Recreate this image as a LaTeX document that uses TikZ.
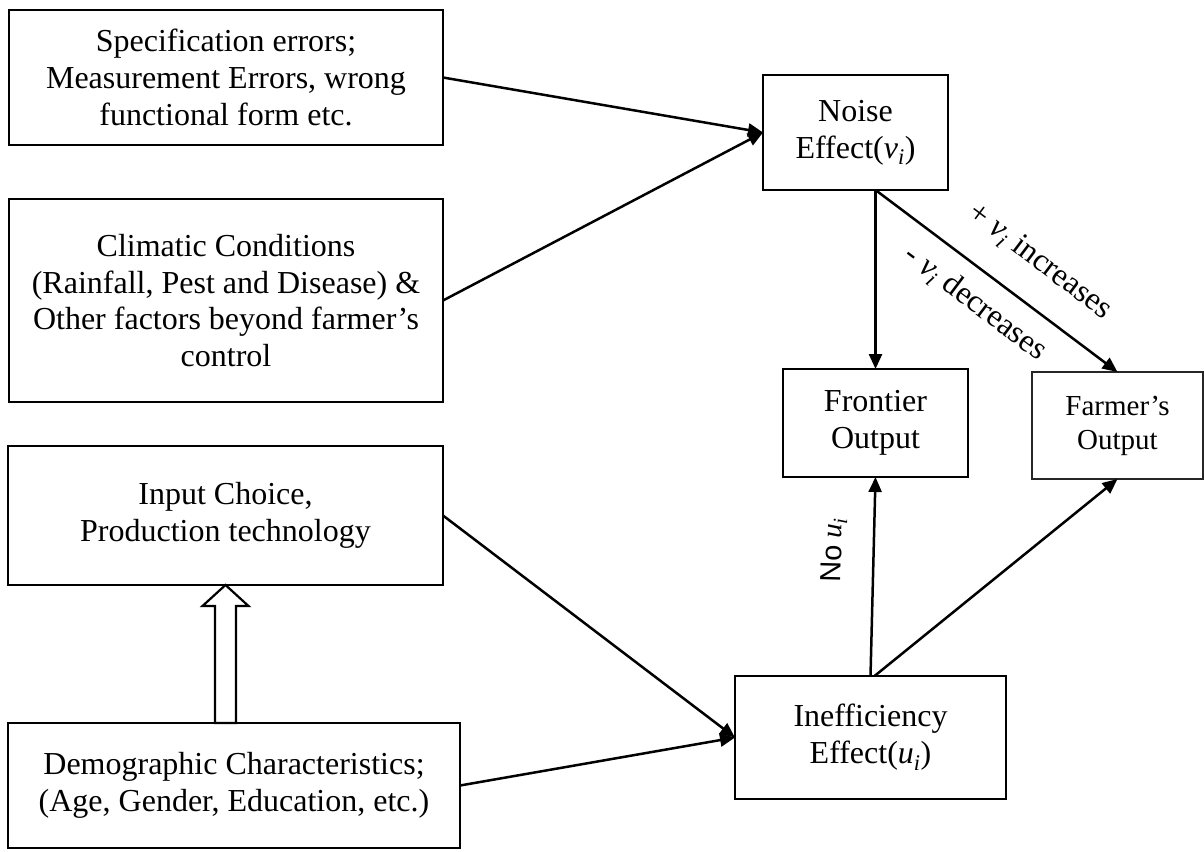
\documentclass[tikz,border=0pt]{standalone}
\usepackage{fontspec}
\setmainfont{Liberation Serif}
\newfontfamily\arialf{Liberation Sans}
\usetikzlibrary{arrows.meta,calc}
\newcommand\vsub{\textit{v}\textsubscript{\textit{i}}}
\newcommand\usub{\textit{u}\textsubscript{\textit{i}}}
\begin{document}
\begin{tikzpicture}[x=1pt,y=-1pt,
  box/.style={draw, line width=2.2pt, inner sep=0pt, outer sep=0pt, align=center,
    font=\fontsize{32}{36.8}\selectfont},
  conn/.style={line width=2.5pt, -{Triangle[length=15pt,width=13pt]}},
  lbl/.style={font=\fontsize{32}{36.8}\selectfont, inner sep=0pt},
  hollow/.style={draw, line width=2.2pt, fill=white, line join=miter}]
\useasboundingbox (0,0) rectangle (1204,851);

\node[box, minimum width=434pt, minimum height=135pt] (b1) at (226,77.5)
  {Specification errors;\\Measurement Errors, wrong\\functional form etc.};
\node[box, minimum width=434pt, minimum height=203pt] (b2) at (226,300.5)
  {Climatic Conditions\\(Rainfall, Pest and Disease) \&\\Other factors beyond farmer’s\\control};
\node[box, minimum width=435pt, minimum height=139pt] (b3) at (225.5,515.5)
  {Input Choice,\\Production technology};
\node[box, minimum width=452pt, minimum height=125pt] (b4) at (234,785.5)
  {Demographic Characteristics;\\(Age, Gender, Education, etc.)};
\node[box, minimum width=185pt, minimum height=115pt] (noise) at (855.5,132.5)
  {Noise\\Effect(\vsub)};
\node[box, minimum width=185pt, minimum height=108pt] (frontier) at (875.5,423)
  {Frontier\\Output};
\node[box, line width=1.5pt, draw=black!85, minimum width=171pt, minimum height=107pt,
  font=\fontsize{29}{34}\selectfont] (farmer) at (1117.5,425.5)
  {Farmer’s\\Output};
\node[box, minimum width=271pt, minimum height=123pt] (ineff) at (870.5,737.5)
  {Inefficiency\\Effect(\usub)};

\draw[conn] (b1.east) -- (noise.west);
\draw[conn] (b2.east) -- (noise.west);
\draw[conn] (b3.east) -- (ineff.west);
\draw[conn] (b4.east) -- (ineff.west);

\coordinate (ns) at (noise.south -| frontier.north);
\draw[conn] (ns) -- (frontier.north);
\draw[conn] (ns) -- (farmer.north)
  node[lbl, pos=0.576, sloped, above=26pt] {+ \vsub{} increases}
  node[lbl, pos=0.488, sloped, below=15.5pt] {- \vsub{} decreases};

\draw[conn] (ineff.north) -- (frontier.south)
  node[pos=0.628, sloped, above=26pt, inner sep=0pt,
    font=\fontsize{29}{33}\selectfont] {{\arialf No} \usub};
\draw[conn] ([xshift=4pt]ineff.north) -- (farmer.south);

\draw[hollow] (b3.south) -- ++(23,21) -- ++(-12.5,0) -- ++(0,117) -- ++(-21,0)
  -- ++(0,-117) -- ++(-12.5,0) -- cycle;
\end{tikzpicture}
\end{document}
